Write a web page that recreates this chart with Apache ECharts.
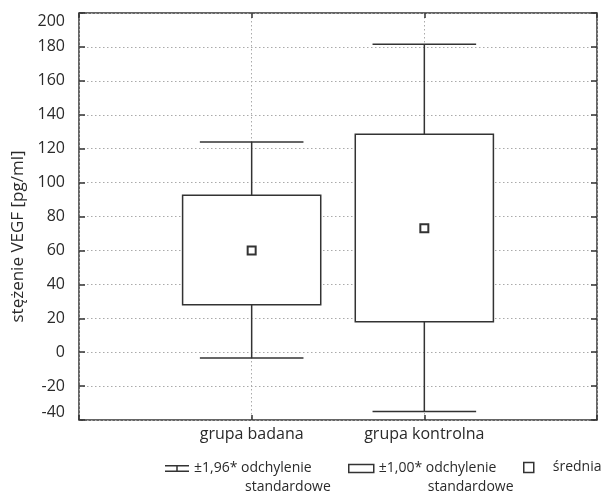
<!DOCTYPE html>
<html>
<head>
<meta charset="utf-8">
<script src="https://cdn.jsdelivr.net/npm/echarts@6/dist/echarts.min.js"></script>
<style>
  html, body { margin: 0; padding: 0; background: #fff; }
  #chart { width: 602px; height: 496px; }
</style>
</head>
<body>
<div id="chart"></div>
<script>
// dane
const categories = ['grupa badana', 'grupa kontrolna']
const whiskerHigh = [124, 181.5]
const boxHigh = [92.5, 128.5]
const means = [60, 73]
const boxLow = [28, 18]
const whiskerLow = [-3.5, -35]
const yTicks = { min: -40, max: 200, step: 20 }

const seriesNames = ['±1,96* odchylenie standardowe', '±1,00* odchylenie standardowe', 'średnia']

const fontFamily = 'Open Sans'
const ink = '#333'
const textColor = '#2a2a2a'
const gridDots = { color: '#aaa', width: 1, type: [1.5, 2.5] }

const chart = echarts.init(document.getElementById('chart'))

// tekst legendy w dwóch liniach, druga wcięta pod "odchylenie"
const legendText = (indent) => ({
  fontFamily: fontFamily,
  fontSize: 14,
  color: textColor,
  lineHeight: 19,
  padding: [19, 0, 0, 0],
  rich: {
    a: { fontFamily: fontFamily, fontSize: 14, color: textColor, lineHeight: 19 },
    b: { fontFamily: fontFamily, fontSize: 14, color: textColor, lineHeight: 19, padding: [0, 0, 0, indent] }
  }
})

const twoLine = (name) => {
  const parts = name.split(' ')
  return '{a|' + parts[0] + ' ' + parts[1] + '}\n{b|' + parts[2] + '}'
}

const option = {
  animation: false,
  textStyle: { fontFamily: fontFamily },
  grid: {
    left: 79,
    right: 5,
    top: 13,
    bottom: 76,
    show: true,
    borderColor: ink,
    borderWidth: 1.5,
    backgroundColor: 'transparent'
  },
  legend: [
    {
      left: 165,
      top: 440,
      padding: 0,
      itemWidth: 24,
      itemHeight: 7,
      data: [{
        name: seriesNames[0],
        icon: 'path://M0,0H24V1.5H12.75V5.5H24V7H0V5.5H11.25V1.5H0Z',
        itemStyle: { color: ink, borderWidth: 0 }
      }],
      formatter: twoLine,
      textStyle: legendText(51)
    },
    {
      left: 348,
      top: 440,
      padding: 0,
      itemWidth: 25,
      itemHeight: 8,
      data: [{
        name: seriesNames[1],
        icon: 'rect',
        itemStyle: { color: '#fff', borderColor: ink, borderWidth: 1.5 }
      }],
      formatter: twoLine,
      textStyle: legendText(49)
    },
    {
      left: 523,
      top: 458,
      padding: 0,
      itemWidth: 10,
      itemHeight: 10,
      data: [{
        name: seriesNames[2],
        icon: 'rect',
        itemStyle: { color: '#fff', borderColor: ink, borderWidth: 1.5 }
      }],
      textStyle: { fontFamily: fontFamily, fontSize: 14, color: textColor, lineHeight: 19, padding: [0, 0, 0, 14] }
    }
  ],
  xAxis: [
    {
      type: 'value',
      min: 0,
      max: categories.length + 1,
      interval: 1,
      axisLine: { show: false, onZero: false },
      axisTick: { inside: true, length: 5, lineStyle: { color: ink, width: 1.5 } },
      axisLabel: {
        margin: 6,
        fontSize: 16,
        color: textColor,
        formatter: (v) => categories[v - 1] || ''
      },
      splitLine: { show: true, lineStyle: gridDots }
    },
    {
      type: 'value',
      position: 'top',
      min: 0,
      max: categories.length + 1,
      interval: 1,
      axisLine: { show: false, onZero: false },
      axisTick: { inside: true, length: 5, lineStyle: { color: ink, width: 1.5 } },
      axisLabel: { show: false },
      splitLine: { show: false }
    }
  ],
  yAxis: [
    {
      type: 'value',
      min: yTicks.min,
      max: yTicks.max,
      interval: yTicks.step,
      name: 'stężenie VEGF [pg/ml]',
      nameLocation: 'middle',
      nameGap: 50,
      nameTextStyle: { fontSize: 17, color: textColor, padding: [0, 40, 0, 0] },
      axisLine: { show: false, onZero: false },
      axisTick: { inside: true, length: 6, lineStyle: { color: ink, width: 1.5 } },
      axisLabel: {
        margin: 14,
        fontSize: 16,
        color: textColor,
        verticalAlignMaxLabel: 'top',
        verticalAlignMinLabel: 'bottom'
      },
      splitLine: { show: true, lineStyle: gridDots }
    },
    {
      type: 'value',
      position: 'right',
      min: yTicks.min,
      max: yTicks.max,
      interval: yTicks.step,
      axisLine: { show: false, onZero: false },
      axisTick: { inside: true, length: 6, lineStyle: { color: ink, width: 1.5 } },
      axisLabel: { show: false },
      splitLine: { show: false }
    }
  ],
  series: [
    {
      name: seriesNames[0],
      type: 'custom',
      z: 2,
      data: categories.map((c, i) => [i + 1, whiskerLow[i], whiskerHigh[i]]),
      renderItem: (params, api) => {
        const lo = api.coord([api.value(0), api.value(1)])
        const hi = api.coord([api.value(0), api.value(2)])
        const half = api.size([0.6, 0])[0] / 2
        const style = { stroke: ink, lineWidth: 1.5 }
        return {
          type: 'group',
          children: [
            { type: 'line', shape: { x1: lo[0], y1: lo[1], x2: hi[0], y2: hi[1] }, style: style },
            { type: 'line', shape: { x1: hi[0] - half, y1: hi[1], x2: hi[0] + half, y2: hi[1] }, style: style },
            { type: 'line', shape: { x1: lo[0] - half, y1: lo[1], x2: lo[0] + half, y2: lo[1] }, style: style }
          ]
        }
      }
    },
    {
      name: seriesNames[1],
      type: 'custom',
      z: 3,
      data: categories.map((c, i) => [i + 1, boxLow[i], boxHigh[i]]),
      renderItem: (params, api) => {
        const lo = api.coord([api.value(0), api.value(1)])
        const hi = api.coord([api.value(0), api.value(2)])
        const w = api.size([0.8, 0])[0]
        return {
          type: 'rect',
          shape: { x: lo[0] - w / 2, y: hi[1], width: w, height: lo[1] - hi[1] },
          style: { fill: '#fff', stroke: ink, lineWidth: 1.5 }
        }
      }
    },
    {
      name: seriesNames[2],
      type: 'custom',
      z: 4,
      data: categories.map((c, i) => [i + 1, means[i]]),
      renderItem: (params, api) => {
        const p = api.coord([api.value(0), api.value(1)])
        return {
          type: 'rect',
          shape: { x: p[0] - 4, y: p[1] - 4, width: 8, height: 8 },
          style: { fill: '#fff', stroke: ink, lineWidth: 2 }
        }
      }
    }
  ]
}

chart.setOption(option)

window.addEventListener('resize', () => {
  chart.resize()
})
</script>
</body>
</html>
